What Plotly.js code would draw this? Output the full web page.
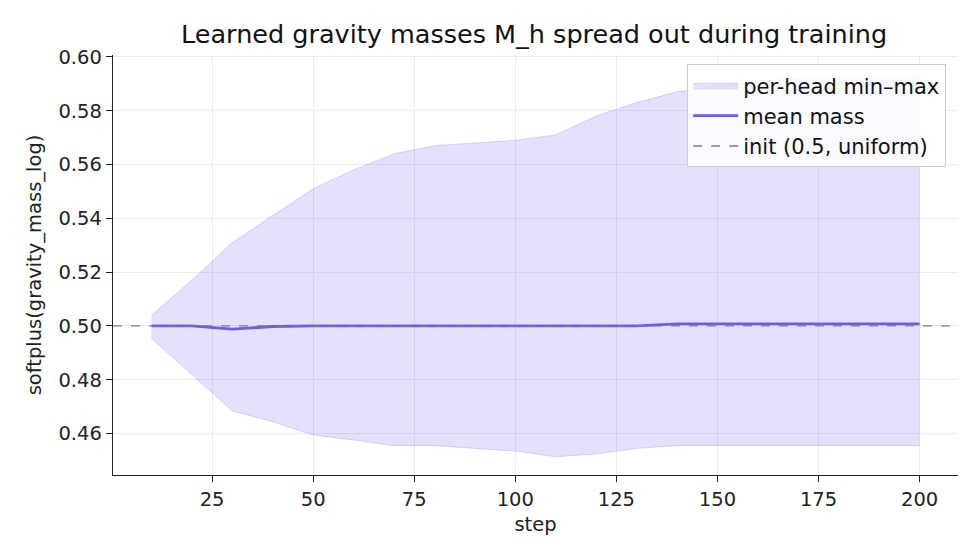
<!DOCTYPE html>
<html>
<head>
<meta charset="utf-8">
<script src="https://cdn.plot.ly/plotly-3.0.1.min.js"></script>
<style>
  body { margin: 0; background: #fff; }
  #plot { width: 980px; height: 560px; }
</style>
</head>
<body>
<div id="plot"></div>
<script>
// training steps
const steps = [10, 20, 30, 40, 50, 60, 70, 80, 90, 100,
               110, 120, 130, 140, 150, 160, 170, 180, 190, 200];

// per-head max / min of softplus(mass)
const massMax = [0.504, 0.517, 0.531, 0.541, 0.551, 0.558, 0.564, 0.567, 0.568, 0.569,
                 0.571, 0.578, 0.583, 0.587, 0.589, 0.591, 0.592, 0.593, 0.593, 0.593];
const massMin = [0.4954, 0.4818, 0.4684, 0.4644, 0.4595, 0.4576, 0.4555, 0.4555, 0.4545, 0.4535,
                 0.4514, 0.4524, 0.4545, 0.4555, 0.4555, 0.4555, 0.4555, 0.4555, 0.4555, 0.4555];
const massMean = [0.5, 0.5, 0.4988, 0.4998, 0.5, 0.5, 0.5, 0.5, 0.5, 0.5,
                  0.5, 0.5, 0.5, 0.5008, 0.5008, 0.5008, 0.5008, 0.5008, 0.5008, 0.5008];

const initValue = 0.5;
const xRange = [0.5, 209.5];

const bandLine = 'rgba(123,104,238,0.25)';
const bandFill = 'rgba(123,104,238,0.2)';

const traces = [
    {
        x: steps, y: massMin,
        mode: 'lines', type: 'scatter',
        line: {color: bandLine, width: 1},
        showlegend: false, hoverinfo: 'skip', legendgroup: 'a'
    },
    {
        x: steps, y: massMax,
        mode: 'lines', type: 'scatter',
        fill: 'tonexty', fillcolor: bandFill,
        line: {color: bandLine, width: 1},
        name: 'per-head min–max', legendgroup: 'a'
    },
    {
        x: steps, y: massMean,
        mode: 'lines', type: 'scatter',
        line: {color: '#6c5ce7', width: 2.8},
        name: 'mean mass', legendgroup: 'b'
    },
    {
        x: xRange, y: [initValue, initValue],
        mode: 'lines', type: 'scatter',
        line: {color: '#808080', width: 1.3, dash: 'dash'},
        name: 'init (0.5, uniform)', legendgroup: 'c'
    }
];

const layout = {
    width: 980, height: 560,
    margin: {l: 113, r: 22, t: 55, b: 85},
    paper_bgcolor: '#fff', plot_bgcolor: '#fff',
    font: {family: 'DejaVu Sans, sans-serif', size: 19.5, color: '#222'},
    title: {
        text: 'Learned gravity masses M_h spread out during training',
        font: {size: 25.5, color: '#111'},
        x: 0.545, xanchor: 'center', y: 0.939, yanchor: 'middle'
    },
    xaxis: {
        title: {text: 'step', font: {size: 19.5}, standoff: 7},
        range: xRange,
        tickmode: 'array', tickvals: [25, 50, 75, 100, 125, 150, 175, 200],
        tickfont: {size: 19.5},
        showgrid: true, gridcolor: '#ebebeb', gridwidth: 1,
        zeroline: false,
        showline: true, linecolor: '#222', linewidth: 1.3,
        ticks: 'outside', ticklen: 6, tickcolor: '#222'
    },
    yaxis: {
        title: {text: 'softplus(gravity_mass_log)', font: {size: 19.5}, standoff: 11},
        range: [0.4446, 0.6007],
        tickmode: 'array',
        tickvals: [0.46, 0.48, 0.50, 0.52, 0.54, 0.56, 0.58, 0.60],
        tickformat: '.2f',
        tickfont: {size: 19.5},
        showgrid: true, gridcolor: '#ebebeb', gridwidth: 1,
        zeroline: false,
        showline: true, linecolor: '#222', linewidth: 1.3,
        ticks: 'outside', ticklen: 6, tickcolor: '#222'
    },
    legend: {
        x: 0.986, xanchor: 'right', y: 0.978, yanchor: 'top',
        traceorder: 'normal',
        bgcolor: 'rgba(255,255,255,0.85)',
        bordercolor: '#cccccc', borderwidth: 1,
        font: {size: 21, color: '#111'},
        itemwidth: 45,
        tracegroupgap: 5
    },
    showlegend: true
};

Plotly.newPlot('plot', traces, layout, {displayModeBar: false, staticPlot: true});
</script>
</body>
</html>
